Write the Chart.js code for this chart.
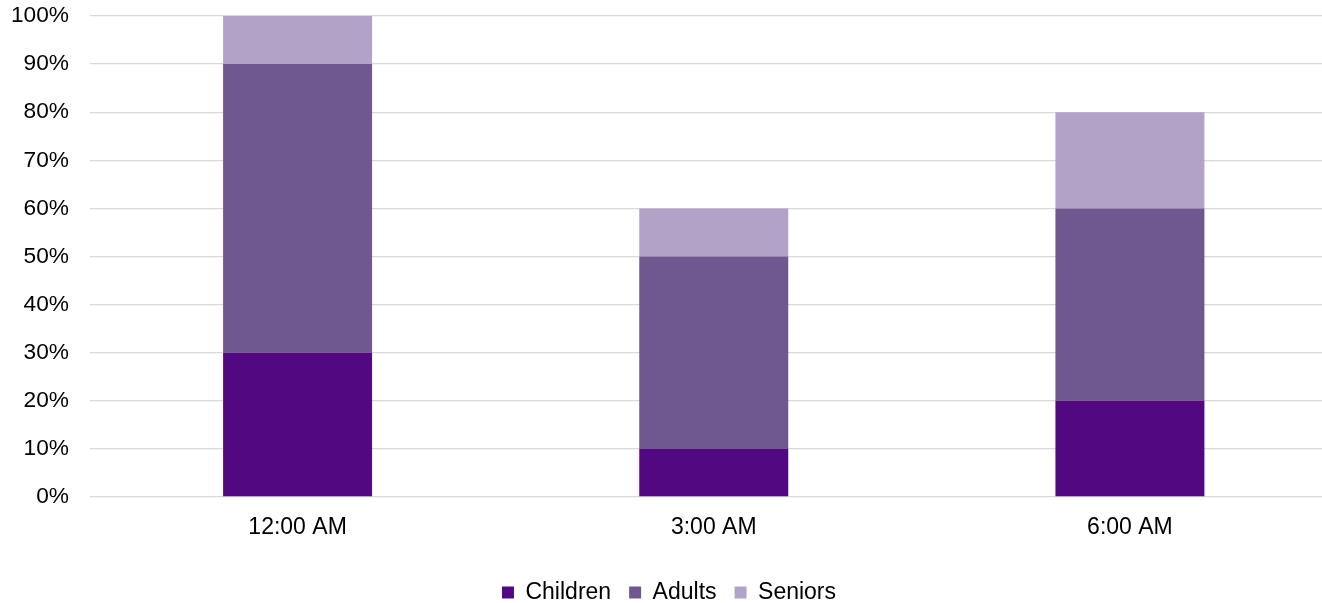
<!DOCTYPE html>
<html>
<head>
<meta charset="utf-8">
<script src="https://cdn.jsdelivr.net/npm/chart.js@4/dist/chart.umd.min.js"></script>
<style>
  html, body { margin: 0; padding: 0; background: #fff; overflow: hidden; }
  #wrap { position: relative; width: 1340px; height: 603px; }
</style>
</head>
<body>
<div id="wrap"><canvas id="c"></canvas></div>
<script>
const categories = ["12:00 AM", "3:00 AM", "6:00 AM"];
const children = [30, 10, 20];
const adults = [60, 40, 40];
const seniors = [10, 10, 20];
const seriesNames = ["Children", "Adults", "Seniors"];
const seriesColors = ["#520880", "#6F578F", "#B2A2C7"];

const FONT = "'Liberation Sans', Arial, sans-serif";
Chart.defaults.font.family = FONT;
Chart.defaults.color = "#000";

new Chart(document.getElementById("c"), {
  type: "bar",
  data: {
    labels: categories,
    datasets: [children, adults, seniors].map((d, i) => ({
      label: seriesNames[i],
      data: d,
      backgroundColor: seriesColors[i],
      borderWidth: 0,
      barPercentage: 0.358,
      categoryPercentage: 1
    }))
  },
  options: {
    responsive: true,
    maintainAspectRatio: false,
    animation: false,
    layout: { padding: { top: 16, right: 2, left: 0, bottom: -11 } },
    plugins: {
      tooltip: { enabled: false },
      legend: {
        position: "bottom",
        labels: {
          boxWidth: 12,
          boxHeight: 12,
          padding: 18,
          font: { size: 23 },
          color: "#000"
        }
      }
    },
    scales: {
      x: {
        stacked: true,
        grid: { display: false },
        border: { display: false },
        afterFit: s => { s.height = 66; },
        ticks: { font: { size: 23 }, padding: 9, color: "#000" }
      },
      y: {
        stacked: true,
        min: 0,
        max: 100,
        grid: { color: "#D9D9D9", lineWidth: 1.3, drawTicks: true, tickLength: 20.5, tickColor: "rgba(0,0,0,0)" },
        border: { display: false },
        afterFit: s => { s.width = 89.5; },
        ticks: {
          stepSize: 10,
          padding: 0,
          font: { size: 22.7 },
          color: "#000",
          callback: v => v + "%"
        }
      }
    }
  }
});
</script>
</body>
</html>
